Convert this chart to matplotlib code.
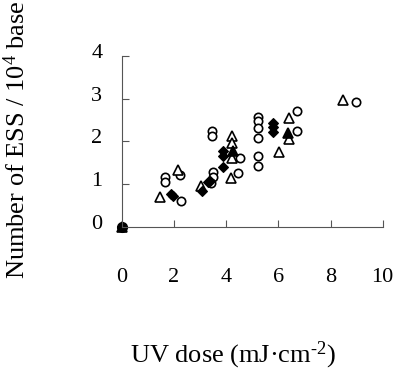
import matplotlib
matplotlib.use("Agg")
import matplotlib.pyplot as plt
from matplotlib.transforms import ScaledTranslation

plt.rcParams['font.family'] = ['Liberation Serif', 'DejaVu Serif']
plt.rcParams['mathtext.fontset'] = 'custom'
plt.rcParams['mathtext.rm'] = 'Liberation Serif'
plt.rcParams['mathtext.it'] = 'Liberation Serif:italic'

# Data (UV dose in mJ/cm2, ESS per 10^4 base)
circle_open_x = [1.66, 1.66, 2.23, 2.26, 3.47, 3.47, 3.49, 3.49, 3.42, 4.53, 4.47,
                 5.24, 5.24, 5.24, 5.24, 5.24, 5.24, 6.72, 6.72, 8.98]
circle_open_y = [1.17, 1.05, 1.21, 0.61, 2.24, 2.13, 1.29, 1.17, 1.03, 1.60, 1.27,
                 2.57, 2.48, 2.32, 2.08, 1.65, 1.42, 2.70, 2.25, 2.93]
tri_open_x = [1.45, 2.17, 3.04, 4.24, 4.24, 4.24, 4.17, 6.04, 6.40, 6.40, 8.47]
tri_open_y = [0.70, 1.32, 0.95, 2.12, 1.97, 1.60, 1.15, 1.76, 2.54, 2.05, 2.98]
diamond_x = [0.00, 1.90, 1.95, 3.08, 3.30, 3.38, 3.87, 3.87, 3.90, 5.80, 5.80, 5.80]
diamond_y = [0.00, 0.76, 0.72, 0.84, 1.04, 1.08, 1.41, 1.78, 1.66, 2.44, 2.34, 2.22]
tri_fill_x = [0.00, 4.26, 6.38]
tri_fill_y = [0.00, 1.78, 2.20]
circle_fill_x = [0.00]
circle_fill_y = [0.00]

x_ticks = [0, 2, 4, 6, 8, 10]
y_ticks = [0, 1, 2, 3, 4]

fig = plt.figure(figsize=(4.0, 3.7), dpi=100)
ax = fig.add_axes([121.7 / 400, 1 - 226.7 / 370, (382.7 - 121.7) / 400, (226.7 - 56) / 370])

ms = 6
mew = 1.2
ax.plot(circle_open_x, circle_open_y, 'o', ms=ms, mfc='white', mec='black', mew=mew, clip_on=False, ls='none')
ax.plot(tri_open_x, tri_open_y, '^', ms=ms + 1, mfc='white', mec='black', mew=mew, clip_on=False, ls='none')
ax.plot(tri_fill_x, tri_fill_y, '^', ms=ms + 1, mfc='black', mec='black', mew=mew, clip_on=False, ls='none')
ax.plot(diamond_x, diamond_y, 'D', ms=ms - 0.5, mfc='black', mec='black', mew=0.8, clip_on=False, ls='none')
ax.plot(circle_fill_x, circle_fill_y, 'o', ms=ms + 1, mfc='black', mec='black', clip_on=False, ls='none')

ax.set_xlim(0, 10)
ax.set_ylim(0, 4)
ax.set_xticks(x_ticks)
ax.set_yticks(y_ticks)
ax.set_xticklabels([str(v) for v in x_ticks])
ax.set_yticklabels([str(v) for v in y_ticks])
for s in ['top', 'right']:
    ax.spines[s].set_visible(False)
for s in ['left', 'bottom']:
    ax.spines[s].set_linewidth(0.8)
    ax.spines[s].set_color('#555555')
ax.tick_params(axis='x', direction='in', length=5, width=0.8, color='#555555', labelsize=16, pad=30)
ax.tick_params(axis='y', direction='in', length=5, width=0.8, color='#555555', labelsize=16, pad=14)
off = ScaledTranslation(0, 5 / 100, fig.dpi_scale_trans)
for lab in ax.get_yticklabels():
    lab.set_transform(lab.get_transform() + off)

fig.text(233 / 400, 1 - 355 / 370, 'UV dose (mJ\u00b7cm$^{\\text{-}2}$)', ha='center', va='center', fontsize=19)
fig.text(17 / 400, 1 - 140 / 370, 'Number of ESS / 10$^{4}$ base', ha='center', va='center',
         rotation=90, fontsize=19)

fig.savefig('out.png', dpi=100)
